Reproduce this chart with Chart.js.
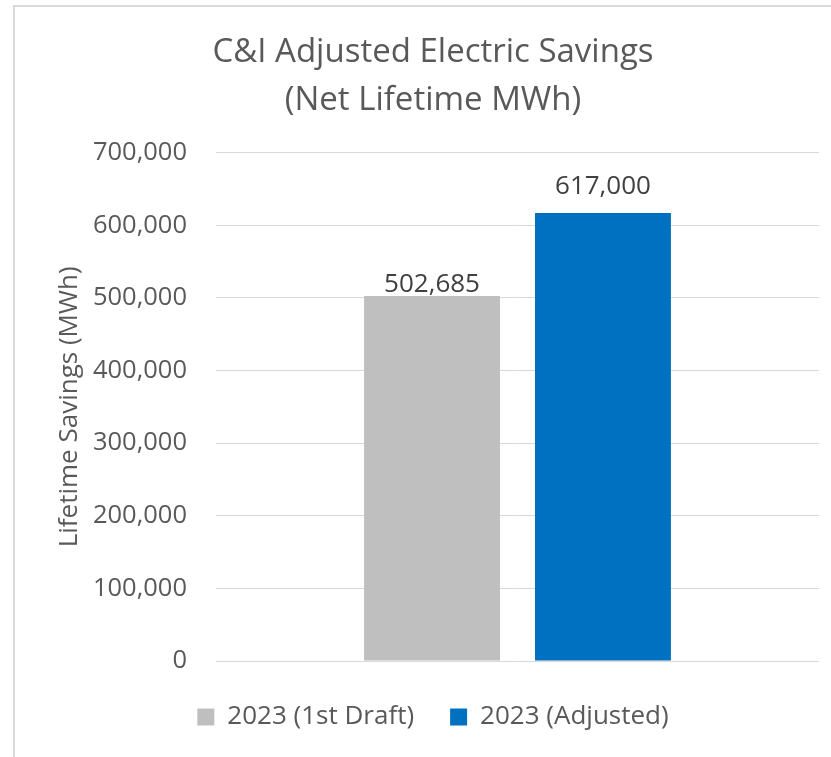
<!DOCTYPE html>
<html><head><meta charset="utf-8">
<script src="https://cdn.jsdelivr.net/npm/chart.js@4"></script>
<style>
html,body{margin:0;padding:0;background:#fff;overflow:hidden;width:831px;height:757px}
#frame{position:absolute;left:13px;top:5px;width:900px;height:900px;border:2px solid #D9D9D9;box-sizing:border-box}
#c{position:absolute;left:0;top:0}
</style></head><body>
<div id="frame"></div>
<canvas id="c" width="831" height="757"></canvas>
<script>
// ---- data ----
const categories = [''];
const seriesNames = ['2023 (1st Draft)', '2023 (Adjusted)'];
const draftValues = [502685];
const adjustedValues = [617000];
const yTicks = [0, 100000, 200000, 300000, 400000, 500000, 600000, 700000];
const titleLines = ['C&I Adjusted Electric Savings', '(Net Lifetime MWh)'];
const yAxisTitle = 'Lifetime Savings (MWh)';

const fmt = v => v.toLocaleString('en-US');
const FONT = 'Open Sans';

const barLabels = {
  id: 'barLabels',
  afterDatasetsDraw(chart) {
    const ctx = chart.ctx;
    chart.data.datasets.forEach((ds, i) => {
      const meta = chart.getDatasetMeta(i);
      meta.data.forEach((bar, j) => {
        ctx.save();
        ctx.font = '26px "' + FONT + '"';
        ctx.fillStyle = '#404040';
        ctx.textAlign = 'center';
        ctx.textBaseline = 'alphabetic';
        ctx.fillText(fmt(ds.data[j]), bar.x, bar.y - ds.labelOffset);
        ctx.restore();
      });
    });
  }
};

function draw() {
  new Chart(document.getElementById('c'), {
    type: 'bar',
    data: {
      labels: categories,
      datasets: [
        { label: seriesNames[0], data: draftValues, backgroundColor: '#BFBFBF', borderWidth: 0, labelOffset: 4 },
        { label: seriesNames[1], data: adjustedValues, backgroundColor: '#0070C0', borderWidth: 0, labelOffset: 19 }
      ]
    },
    options: {
      responsive: false,
      animation: false,
      datasets: { bar: { categoryPercentage: 0.567, barPercentage: 0.795 } },
      layout: { padding: { left: 47, right: 12, top: 0, bottom: 17 } },
      scales: {
        x: {
          grid: { display: false },
          border: { display: false },
          ticks: { display: false },
          afterFit: s => { s.height = 7; }
        },
        y: {
          min: 0, max: 700000,
          afterBuildTicks: s => { s.ticks = yTicks.map(v => ({ value: v })); },
          grid: { color: '#D9D9D9', lineWidth: 1, drawTicks: false },
          border: { display: false },
          ticks: { padding: 29, color: '#595959', font: { family: FONT, size: 25.5 }, callback: v => fmt(v) },
          title: { display: true, text: yAxisTitle, color: '#595959', font: { family: FONT, size: 26, lineHeight: 1.2 }, padding: { top: 7, bottom: 0 } },
          afterFit: s => { s.width = 169; }
        }
      },
      plugins: {
        title: {
          display: true, text: titleLines, color: '#595959',
          font: { family: FONT, size: 33, weight: 'normal', lineHeight: 1.45 },
          padding: { top: 28.5, bottom: 28.5 }
        },
        legend: {
          position: 'bottom',
          labels: { color: '#595959', font: { family: FONT, size: 26 }, boxWidth: 17, boxHeight: 17, padding: 36 }
        },
        tooltip: { enabled: false }
      }
    },
    plugins: [barLabels]
  });
}
if (document.fonts && document.fonts.load) {
  document.fonts.load('26px "' + FONT + '"').then(draw, draw);
} else { draw(); }
</script>
</body></html>
